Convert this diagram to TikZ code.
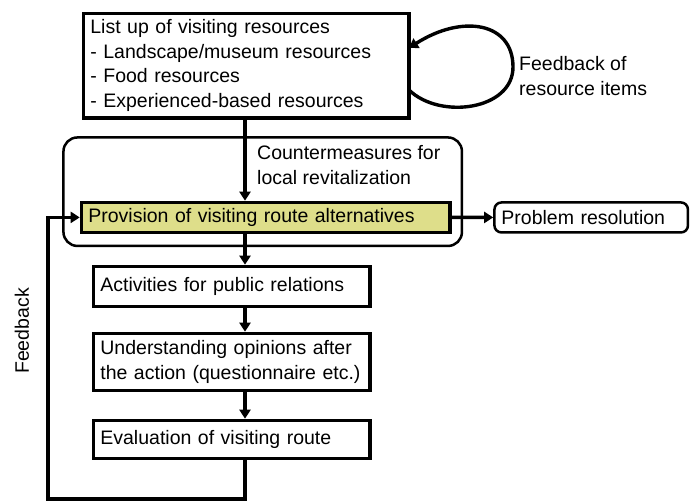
\documentclass[tikz,border=0pt]{standalone}
\usepackage{fontspec}
\setmainfont{Liberation Sans}
\usepackage{xcolor}
\usetikzlibrary{arrows.meta,positioning}
\definecolor{yelc}{HTML}{DEDE8A}
\tikzset{
  ar/.style={-{Triangle[length=9pt,width=11pt]},line width=3.4pt},
  bx/.style={draw,line width=3.4pt,anchor=north west,align=left,inner xsep=7pt,inner ysep=0pt,
    font=\fontsize{19.5}{24.5}\selectfont},
  rbx/.style={bx,line width=2.5pt,rounded corners=7pt},
  lbl/.style={align=left,inner sep=0pt,font=\fontsize{19.5}{24.5}\selectfont}
}
\begin{document}
\begin{tikzpicture}[x=1pt,y=-1pt]
\useasboundingbox (0,0) rectangle (691,503);
% boxes
\node[bx,minimum width=325.5,minimum height=104.5,text width=311.5] (lst) at (81.7,11.7)
  {List up of visiting resources\\- Landscape/museum resources\\- Food resources\\- Experienced-based resources};
\node[rbx,rounded corners=14pt,minimum width=398.5,minimum height=108.5] (grp) at (62.2,136.2) {};
\node[bx,fill=yelc,minimum width=368.5,minimum height=30,text width=354.5] (yel) at (79.7,200.7)
  {Provision of visiting route alternatives};
\node[rbx,minimum width=193.5,minimum height=30,text width=179.5] (prb) at (493.2,201.2) {Problem resolution};
\node[bx,minimum width=276.5,minimum height=40,text width=262.5] (act) at (91.7,264.7) {Activities for public relations};
\node[bx,minimum width=276.5,minimum height=57,text width=262.5] (opn) at (91.7,331.7)
  {Understanding opinions after\\the action (questionnaire etc.)};
\node[bx,minimum width=276.5,minimum height=38,text width=262.5] (eva) at (91.7,418.7) {Evaluation of visiting route};
% labels
\node[lbl,anchor=west] (cnt) at (257,165) {Countermeasures for\\local revitalization};
\node[lbl,anchor=west] (fbr) at (519,76) {Feedback of\\resource items};
\node[lbl,rotate=90] (fbk) at (22,331) {Feedback};
% connectors
\coordinate (col) at (245,0);
\coordinate (low) at (48,499);
\coordinate (lpA) at (409,90);
\coordinate (lpB) at (409,48);
\draw[ar] (col |- lst.south) -- (col |- yel.north);
\draw[ar] (yel.east) -- (prb.west);
\draw[ar] (col |- yel.south) -- (col |- act.north);
\draw[ar] (col |- act.south) -- (col |- opn.north);
\draw[ar] (col |- opn.south) -- (col |- eva.north);
\draw[ar] (col |- eva.south) |- (low) |- (yel.west);
\draw[ar] (lpA) .. controls (440,120) and (513,110) .. (513,67) .. controls (513,22) and (462,14) .. (lpB);
\end{tikzpicture}
\end{document}
